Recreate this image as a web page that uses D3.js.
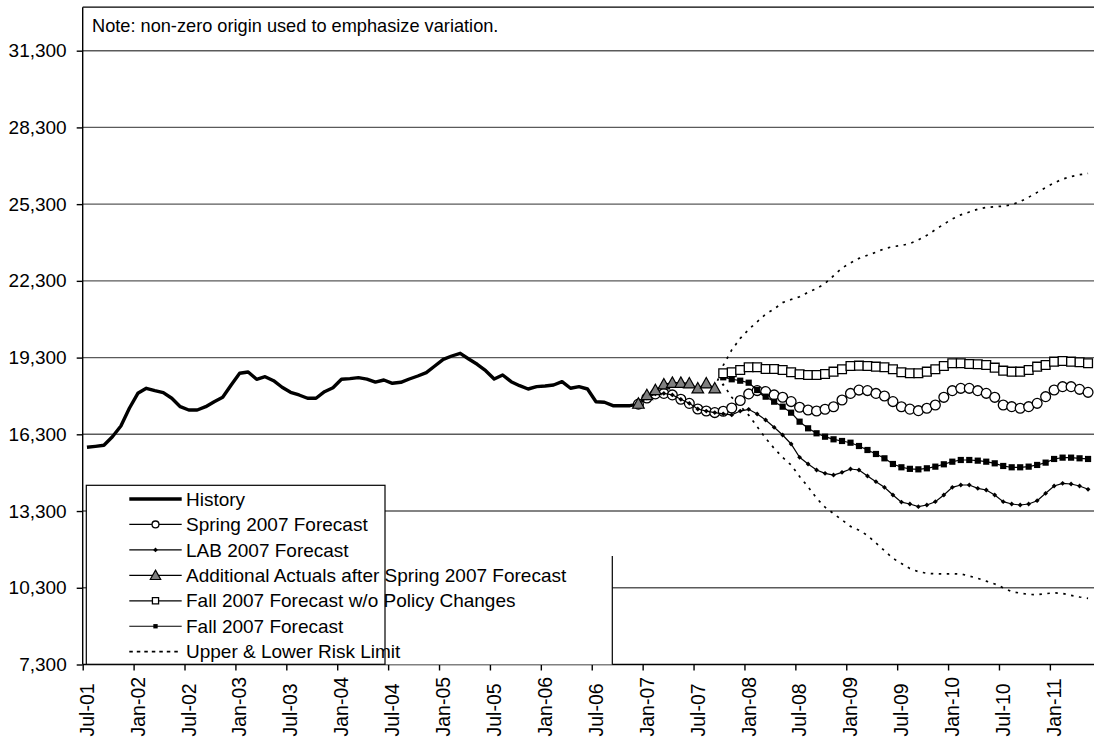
<!DOCTYPE html>
<html>
<head>
<meta charset="utf-8">
<script src="https://cdnjs.cloudflare.com/ajax/libs/d3/7.8.5/d3.min.js"></script>
<style>
  body { margin: 0; background: #fff; }
  svg { display: block; font-family: "Liberation Sans", Arial, sans-serif; }
</style>
</head>
<body>
<script>
/* monthly categories, Jul-01 .. Jun-11 */
var nMonths = 120;
var tickLabels = ['Jul-01', 'Jan-02', 'Jul-02', 'Jan-03', 'Jul-03', 'Jan-04', 'Jul-04', 'Jan-05', 'Jul-05', 'Jan-06',
  'Jul-06', 'Jan-07', 'Jul-07', 'Jan-08', 'Jul-08', 'Jan-09', 'Jul-09', 'Jan-10', 'Jul-10', 'Jan-11'];
var yTicks = [7300, 10300, 13300, 16300, 19300, 22300, 25300, 28300, 31300];

// each series: first month index + monthly values
var historyStart = 0;
var historyVals = [15793, 15830, 15871, 16207, 16626, 17318, 17904, 18100, 18007, 17928, 17709, 17381,
  17251, 17251, 17381, 17576, 17748, 18229, 18686, 18737, 18452, 18554, 18397, 18139,
  17943, 17838, 17709, 17709, 17967, 18124, 18452, 18476, 18515, 18460, 18340, 18424,
  18295, 18334, 18463, 18580, 18710, 18972, 19233, 19362, 19467, 19245, 19038, 18788,
  18463, 18620, 18358, 18202, 18072, 18163, 18190, 18229, 18358, 18100, 18163, 18072,
  17576, 17552, 17419, 17419, 17419, 17480];

var springStart = 65;
var springVals = [17480, 17720, 17880, 17900, 17840, 17670, 17510, 17290, 17210, 17150,
  17200, 17330, 17620, 17880, 18010, 17970, 17840, 17750, 17580, 17360, 17250, 17210,
  17280, 17380, 17640, 17900, 18030, 18010, 17900, 17800, 17580, 17380, 17285, 17225,
  17317, 17447, 17747, 18007, 18098, 18098, 18007, 17903, 17747, 17447, 17382, 17317,
  17382, 17512, 17773, 18033, 18163, 18163, 18059, 17942];

var labStart = 65;
var labVals = [17480, 17720, 17880, 17900, 17840, 17670, 17510, 17290, 17210, 17150,
  17100, 17060, 17210, 17277, 17095, 16860, 16574, 16273, 15922, 15400, 15140, 14905,
  14775, 14709, 14814, 14944, 14905, 14670, 14447, 14228, 13927, 13650, 13576, 13471,
  13536, 13666, 13927, 14228, 14318, 14318, 14188, 14123, 13927, 13666, 13576, 13536,
  13576, 13705, 13993, 14279, 14384, 14358, 14279, 14150];

var actualsStart = 65;
var actualsVals = [17500, 17838, 18033, 18256, 18318, 18318, 18295, 18100, 18295, 18100];

var fallNoPolicyStart = 75;
var fallNoPolicyVals = [18686, 18725, 18815, 18920, 18920, 18854, 18854, 18815, 18725, 18646,
  18619, 18619, 18659, 18750, 18842, 18972, 18985, 18972, 18946, 18920, 18842, 18725,
  18686, 18686, 18750, 18842, 18972, 19077, 19077, 19050, 19037, 19011, 18907, 18790,
  18750, 18750, 18815, 18946, 19011, 19141, 19167, 19141, 19115, 19077];

var fallStart = 75;
var fallVals = [18530, 18452, 18397, 18318, 18033, 17772, 17576, 17381, 17146, 16794,
  16535, 16340, 16207, 16105, 16039, 15972, 15843, 15687, 15531, 15362, 15140, 15011,
  14950, 14931, 14971, 15036, 15128, 15230, 15296, 15296, 15270, 15230, 15166, 15062,
  15011, 15011, 15036, 15102, 15193, 15336, 15388, 15388, 15362, 15336];

var riskStart = 74;
var upperVals = [18100, 19000, 19600, 20050, 20400, 20700, 21000, 21200, 21450, 21570,
  21680, 21850, 22000, 22200, 22500, 22800, 23000, 23180, 23300, 23420, 23560, 23640,
  23680, 23760, 23900, 24080, 24300, 24520, 24720, 24880, 24990, 25100, 25170, 25200,
  25220, 25280, 25400, 25570, 25760, 25950, 26130, 26280, 26380, 26450, 26500];
var lowerVals = [18100, 18250, 17750, 17400, 17050, 16600, 16150, 15750, 15400, 15100,
  14650, 14250, 13800, 13450, 13200, 12950, 12700, 12550, 12350, 12050, 11750, 11450,
  11250, 11050, 10930, 10866, 10845, 10839, 10850, 10840, 10760, 10670, 10560, 10450,
  10300, 10150, 10090, 10040, 10030, 10070, 10100, 10080, 10000, 9940, 9888];

var W = 1094, H = 739;
var plotLeft = 82.7, plotTop = 7.2, plotBottom = 664.5, step = 8.484;

var svg = d3.select('body').append('svg')
  .attr('width', W)
  .attr('height', H);

var x = d3.scaleLinear().domain([0, nMonths]).range([plotLeft, plotLeft + nMonths * step]);
var y = d3.scaleLinear().domain([7300, 33000]).range([plotBottom, plotTop]);

function pts(start, vals) {
  return vals.map(function(v, k) { return { i: start + k, v: v }; });
}
var line = d3.line()
  .x(function(d) { return x(d.i + 0.5); })
  .y(function(d) { return y(d.v); });

// gridlines
svg.append('g').selectAll('line')
  .data(yTicks.slice(1))
  .enter().append('line')
  .attr('x1', plotLeft).attr('x2', W)
  .attr('y1', function(d) { return y(d); })
  .attr('y2', function(d) { return y(d); })
  .attr('stroke', '#5a5a5a')
  .attr('stroke-width', 1.4);

// top border of plot area
svg.append('line')
  .attr('x1', plotLeft).attr('x2', W).attr('y1', plotTop).attr('y2', plotTop)
  .attr('stroke', '#000').attr('stroke-width', 1.3);

// y axis
var yAxis = svg.append('g')
  .attr('transform', 'translate(' + plotLeft + ',0)')
  .call(d3.axisLeft(y).tickValues(yTicks).tickFormat(d3.format(',')).tickSize(6).tickPadding(10));
yAxis.select('.domain').attr('d', 'M0,' + plotTop + 'V' + plotBottom).attr('stroke', '#000').attr('stroke-width', 1.4);
yAxis.selectAll('.tick line').attr('stroke', '#000').attr('stroke-width', 1.4);
yAxis.selectAll('.tick text').attr('font-size', 19).attr('fill', '#000')
  .attr('font-family', '"Liberation Sans", Arial, sans-serif');

// x axis (ticks between categories, every 6 months)
var xAxis = svg.append('g')
  .attr('transform', 'translate(0,' + plotBottom + ')')
  .call(d3.axisBottom(x).tickValues(d3.range(0, nMonths, 6)).tickFormat('').tickSize(6));
xAxis.select('.domain').attr('d', 'M' + plotLeft + ',0H' + W).attr('stroke', '#000').attr('stroke-width', 1.4);
xAxis.selectAll('.tick line').attr('stroke', '#000').attr('stroke-width', 1.4);

// rotated labels, start aligned at the bottom
svg.append('g').selectAll('text')
  .data(tickLabels)
  .enter().append('text')
  .attr('transform', function(d, k) {
    return 'translate(' + x(k * 6 + 0.5) + ',736.5) rotate(-90)';
  })
  .attr('text-anchor', 'start')
  .attr('dy', '0.35em')
  .attr('font-size', 19.5)
  .text(function(d) { return d; });

// risk limits
[upperVals, lowerVals].forEach(function(vals) {
  svg.append('path')
    .attr('d', line(pts(riskStart, vals)))
    .attr('fill', 'none')
    .attr('stroke', '#000')
    .attr('stroke-width', 1.7)
    .attr('stroke-dasharray', '2.5,5.5');
});

// history
svg.append('path')
  .attr('d', line(pts(historyStart, historyVals)))
  .attr('fill', 'none')
  .attr('stroke', '#000')
  .attr('stroke-width', 3.4)
  .attr('stroke-linejoin', 'round');

function markerPath(sel, kind, s) {
  s = s || 1;
  if (kind === 'circle') {
    sel.attr('d', d3.symbol().type(d3.symbolCircle).size(76 * s * s)).attr('fill', '#fff')
      .attr('stroke', '#000').attr('stroke-width', 1.3);
  } else if (kind === 'diamond') {
    sel.attr('d', 'M0,-2.4L2.4,0L0,2.4L-2.4,0Z').attr('fill', '#000');
  } else if (kind === 'triangle') {
    var t = s;
    sel.attr('d', 'M0,' + (-5.8 * t) + 'L' + (5.8 * t) + ',' + (4.6 * t) + 'L' + (-5.8 * t) + ',' + (4.6 * t) + 'Z')
      .attr('fill', '#808080').attr('stroke', '#000').attr('stroke-width', 1.2);
  } else if (kind === 'open') {
    var h = 4.4 * s;
    sel.attr('d', 'M' + -h + ',' + -h + 'H' + h + 'V' + h + 'H' + -h + 'Z').attr('fill', '#fff')
      .attr('stroke', '#000').attr('stroke-width', 1.3);
  } else if (kind === 'filled') {
    var f = 3.1 * s;
    sel.attr('d', 'M' + -f + ',' + -f + 'H' + f + 'V' + f + 'H' + -f + 'Z').attr('fill', '#000');
  }
}

var series = [
  { vals: springVals, start: springStart, marker: 'circle' },
  { vals: labVals, start: labStart, marker: 'diamond' },
  { vals: actualsVals, start: actualsStart, marker: 'triangle' },
  { vals: fallVals, start: fallStart, marker: 'filled' },
  { vals: fallNoPolicyVals, start: fallNoPolicyStart, marker: 'open' }
];
series.forEach(function(s) {
  var d = pts(s.start, s.vals);
  svg.append('path')
    .attr('d', line(d))
    .attr('fill', 'none')
    .attr('stroke', '#000')
    .attr('stroke-width', 1.2);
  var m = svg.append('g').selectAll('path').data(d).enter().append('path')
    .attr('transform', function(p) { return 'translate(' + x(p.i + 0.5) + ',' + y(p.v) + ')'; });
  markerPath(m, s.marker);
});

// note
svg.append('text')
  .attr('x', 92).attr('y', 32)
  .attr('font-size', 18.2)
  .text('Note: non-zero origin used to emphasize variation.');

// legend
var legendItems = [
  { name: 'History', marker: null, width: 3.4 },
  { name: 'Spring 2007 Forecast', marker: 'circle' },
  { name: 'LAB 2007 Forecast', marker: 'diamond' },
  { name: 'Additional Actuals after Spring 2007 Forecast', marker: 'triangle' },
  { name: 'Fall 2007 Forecast w/o Policy Changes', marker: 'open' },
  { name: 'Fall 2007 Forecast', marker: 'filled' },
  { name: 'Upper & Lower Risk Limit', marker: null, dash: true }
];
var lg = svg.append('g');
// white patch behind the overflowing legend text
lg.append('rect')
  .attr('x', 380).attr('y', 556)
  .attr('width', 232.3).attr('height', 108.5)
  .attr('fill', '#fff');
lg.append('line')
  .attr('x1', 612.3).attr('x2', 612.3).attr('y1', 556).attr('y2', plotBottom)
  .attr('stroke', '#000').attr('stroke-width', 1.2);
lg.append('rect')
  .attr('x', 86.3).attr('y', 485.3)
  .attr('width', 298.7).attr('height', 179)
  .attr('fill', '#fff').attr('stroke', '#000').attr('stroke-width', 1.2);

legendItems.forEach(function(it, k) {
  var cy = 499 + k * 25.45;
  lg.append('line')
    .attr('x1', 129.3).attr('x2', 181.7).attr('y1', cy).attr('y2', cy)
    .attr('stroke', '#000')
    .attr('stroke-width', it.width || (it.dash ? 1.7 : 1.2))
    .attr('stroke-dasharray', it.dash ? '3.5,4' : null);
  if (it.marker) {
    var p = lg.append('path').attr('transform', 'translate(155.5,' + cy + ')');
    markerPath(p, it.marker, it.marker === 'triangle' ? 0.9 : 0.7);
  }
  lg.append('text')
    .attr('x', 186).attr('y', cy)
    .attr('dy', '0.35em')
    .attr('font-size', 19)
    .text(it.name);
});
</script>
</body>
</html>
